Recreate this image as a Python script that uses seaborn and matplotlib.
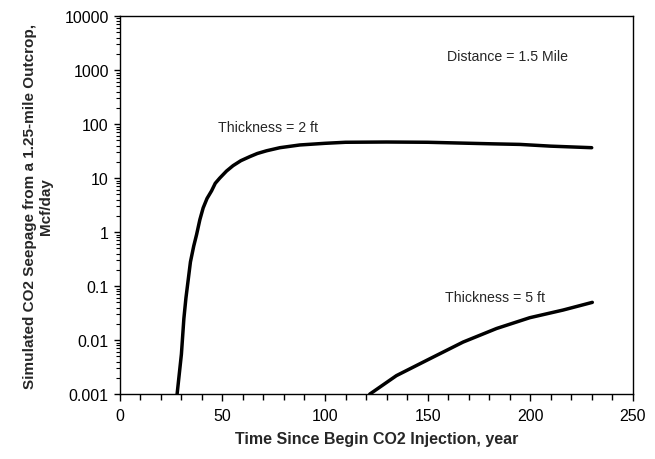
import matplotlib
matplotlib.use("Agg")
import matplotlib.pyplot as plt
import seaborn as sns
import pandas as pd
import numpy as np
from matplotlib.ticker import FixedLocator, LogLocator, NullFormatter, MultipleLocator

# Data
t_2ft = [27.9, 30.0, 31.2, 32.2, 34.4, 36.0, 37.4, 39.0, 40.6, 42.5, 44.7, 46.5,
         48.7, 52.0, 55.2, 59.0, 63.4, 67.0, 71.5, 78.0, 87.7, 100, 110, 130,
         150, 182, 195, 210, 230]
v_2ft = [0.001, 0.0055, 0.025, 0.06, 0.28, 0.55, 0.9, 1.7, 2.8, 4.2, 5.8, 8.0,
         10, 13.5, 17, 21, 25, 28.5, 32, 36.5, 41, 44, 46, 46.5,
         46, 43, 42, 39, 36.5]
t_5ft = [121.8, 134.8, 151, 167.3, 183.6, 199.8, 216, 230.3]
v_5ft = [0.001, 0.0022, 0.0045, 0.0092, 0.0164, 0.026, 0.036, 0.050]

y_ticks = [0.001, 0.01, 0.1, 1, 10, 100, 1000, 10000]
y_tick_labels = ["0.001", "0.01", "0.1", "1", "10", "100", "1000", "10000"]
x_ticks = [0, 50, 100, 150, 200, 250]

df = pd.concat([
    pd.DataFrame({"t": t_2ft, "v": v_2ft, "case": "Thickness = 2 ft"}),
    pd.DataFrame({"t": t_5ft, "v": v_5ft, "case": "Thickness = 5 ft"}),
])

sns.set_style("ticks")
plt.rcParams["font.family"] = ["Liberation Sans", "DejaVu Sans"]

fig = plt.figure(figsize=(6.55, 4.60), dpi=100)
ax = fig.add_axes([0.183, 0.141, 0.783, 0.822])

sns.lineplot(data=df, x="t", y="v", units="case", estimator=None, color="black",
             linewidth=2.5, ax=ax, legend=False, sort=False)

ax.set_yscale("log")
ax.set_xlim(0, 250)
ax.set_ylim(0.001, 10000)
ax.set_xticks(x_ticks)
ax.set_xticklabels([str(x) for x in x_ticks])
ax.xaxis.set_minor_locator(MultipleLocator(10))
ax.yaxis.set_major_locator(FixedLocator(y_ticks))
ax.set_yticklabels(y_tick_labels)
ax.yaxis.set_minor_locator(LogLocator(base=10, subs=np.arange(2, 10)))
ax.yaxis.set_minor_formatter(NullFormatter())

ax.tick_params(axis="both", which="major", direction="out", width=1,
               color="black", labelsize=11.5, labelcolor="black",
               bottom=True, left=True, top=False, right=False)
ax.tick_params(axis="x", which="major", length=5, pad=5)
ax.tick_params(axis="y", which="major", length=4, pad=4)
ax.tick_params(axis="x", which="minor", direction="out", length=4, width=1,
               color="black", bottom=True, top=False)
ax.tick_params(axis="y", which="minor", direction="out", length=3, width=0.8,
               color="black", left=True, right=False)

for s in ax.spines.values():
    s.set_color("black")
    s.set_linewidth(1.0)
    s.set_visible(True)

ax.set_xlabel("Time Since Begin CO2 Injection, year", fontsize=11.5, fontweight="bold",
              labelpad=6)
ax.set_ylabel("Simulated CO2 Seepage from a 1.25-mile Outcrop,\nMcf/day", fontsize=11,
              fontweight="bold", labelpad=8)

ax.text(47.8, 88, "Thickness = 2 ft", fontsize=10.2, va="center", ha="left")
ax.text(158.4, 0.0625, "Thickness = 5 ft", fontsize=10.2, va="center", ha="left")
ax.text(159.4, 1820, "Distance = 1.5 Mile", fontsize=10.2, va="center", ha="left")

ax.grid(False)
fig.savefig("out.png", dpi=100, facecolor="white")
